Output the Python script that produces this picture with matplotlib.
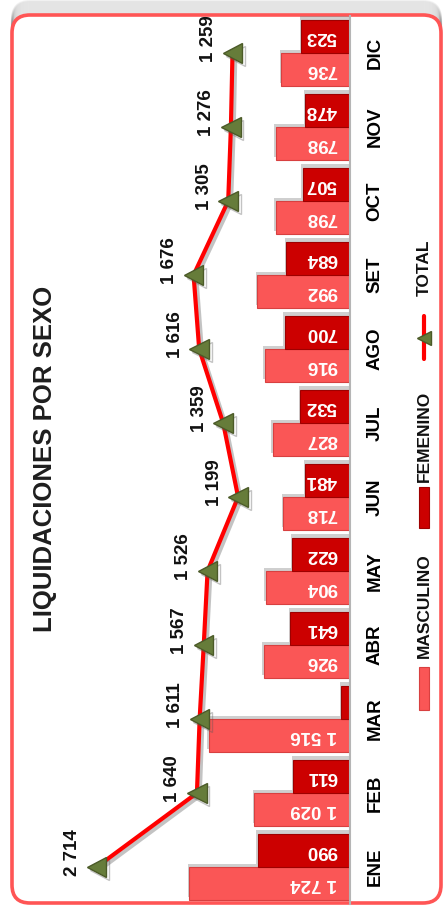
import matplotlib
matplotlib.use("Agg")
import matplotlib.pyplot as plt
import matplotlib.patheffects as pe
from matplotlib.patches import FancyBboxPatch, Rectangle
from matplotlib.lines import Line2D
import numpy as np

months = ["ENE", "FEB", "MAR", "ABR", "MAY", "JUN", "JUL", "AGO", "SET", "OCT", "NOV", "DIC"]
masculino = [1724, 1029, 1516, 926, 904, 718, 827, 916, 992, 798, 798, 736]
femenino = [990, 611, 95, 641, 622, 481, 532, 700, 684, 507, 478, 523]
total = [2714, 1640, 1611, 1567, 1526, 1199, 1359, 1616, 1676, 1305, 1276, 1259]

title = "LIQUIDACIONES POR SEXO"
legend_labels = ["MASCULINO", "FEMENINO", "TOTAL"]

plt.rcParams['font.family'] = ['Liberation Sans', 'DejaVu Sans']
FONT_BOLD = dict(fontweight='bold')

C_MASC = '#FA5656'
C_MASC_EDGE = '#D84040'
C_FEM = '#CC0000'
C_FEM_EDGE = '#9E0000'
C_LINE = '#FF0000'
C_MARK = '#667C3A'
C_MARK_EDGE = '#4B5A28'

W, H = 443, 906
fig = plt.figure(figsize=(W / 100, H / 100), dpi=100)

# background axes in pixel coordinates
bg = fig.add_axes([0, 0, 1, 1])
bg.set_xlim(0, W)
bg.set_ylim(H, 0)
bg.axis('off')

# shadow above the border
for k in range(1, 15):
    bg.add_patch(FancyBboxPatch((12, 15 - k), 429, 888,
                                boxstyle="round,pad=0,rounding_size=18",
                                facecolor='none', edgecolor='#707070',
                                linewidth=1.5, alpha=0.09, zorder=1))
bg.add_patch(FancyBboxPatch((12, 15), 429, 888,
                            boxstyle="round,pad=0,rounding_size=18",
                            facecolor='white', edgecolor='#FF5555',
                            linewidth=2.6, zorder=2))

# title
bg.text(45, 459, title, rotation=90, ha='center', va='center',
        fontsize=18.5, color='#1E1E1E', zorder=5, **FONT_BOLD)

# legend (manual, rotated)
bg.add_patch(Rectangle((419, 667), 10, 43, facecolor=C_MASC, edgecolor=C_MASC_EDGE, lw=0.8, zorder=5))
bg.text(424, 606, legend_labels[0], rotation=90, ha='center', va='center',
        fontsize=12.5, color='#111111', zorder=5, **FONT_BOLD)
bg.add_patch(Rectangle((419, 487), 10, 41, facecolor=C_FEM, edgecolor=C_FEM_EDGE, lw=0.8, zorder=5))
bg.text(424, 436, legend_labels[1], rotation=90, ha='center', va='center',
        fontsize=12.5, color='#111111', zorder=5, **FONT_BOLD)
bg.add_line(Line2D([424, 424], [316, 359], color=C_LINE, lw=3, solid_capstyle='round', zorder=5))
bg.add_line(Line2D([424], [338], marker='<', markersize=10, color=C_MARK,
                   markeredgecolor=C_MARK_EDGE, zorder=6))
bg.text(424, 268, legend_labels[2], rotation=90, ha='center', va='center',
        fontsize=12.5, color='#111111', zorder=5, **FONT_BOLD)

# main axes
ax = fig.add_axes([70 / W, 2 / H, 280 / W, 888 / H])
ax.patch.set_alpha(0)
ax.set_xlim(3000, 0)
ax.set_ylim(-0.5, 11.5)

y = np.arange(len(months))
bw = 0.45
shadow = [pe.SimplePatchShadow(offset=(-1, 2.5), shadow_rgbFace='#777777', alpha=0.35), pe.Normal()]
bm = ax.barh(y - bw / 2, masculino, height=bw, color=C_MASC, edgecolor=C_MASC_EDGE,
             linewidth=0.8, zorder=3)
bf = ax.barh(y + bw / 2, femenino, height=bw, color=C_FEM, edgecolor=C_FEM_EDGE,
             linewidth=0.8, zorder=3)
for b in list(bm) + list(bf):
    b.set_path_effects(shadow)


def fmt(v):
    return f"{v:,}".replace(",", " ")


for yi, v in zip(y - bw / 2, masculino):
    if v >= 200:
        ax.text(140, yi, fmt(v), rotation=180, ha='right', va='center',
                fontsize=13.5, color='white', zorder=6, **FONT_BOLD)
for yi, v in zip(y + bw / 2, femenino):
    if v >= 200:
        ax.text(140, yi, fmt(v), rotation=180, ha='right', va='center',
                fontsize=13.5, color='white', zorder=6, **FONT_BOLD)

ln, = ax.plot(total, y, color=C_LINE, lw=3, marker='<', markersize=14,
              markerfacecolor=C_MARK, markeredgecolor=C_MARK_EDGE, markeredgewidth=1,
              zorder=5, solid_joinstyle='round')
ln.set_path_effects([pe.SimpleLineShadow(offset=(2, -2), shadow_color='#555555', alpha=0.35),
                     pe.Normal()])
for v, yi in zip(total, y):
    ax.annotate(fmt(v), (v, yi), xytext=(-24, 14), textcoords='offset pixels',
                rotation=90, ha='center', va='center', fontsize=13.5,
                color='#111111', zorder=6, **FONT_BOLD)

ax.set_yticks(y)
ax.set_yticklabels(months, rotation=90, va='center', fontsize=13.5, **FONT_BOLD)
ax.tick_params(axis='y', left=False, right=False, labelleft=False, labelright=True,
               length=0, pad=12)
ax.set_xticks([])
for s in ['left', 'top', 'bottom']:
    ax.spines[s].set_visible(False)
ax.spines['right'].set_color('#B5B5B5')
ax.spines['right'].set_linewidth(1.5)
ax.spines['right'].set_zorder(4)

fig.savefig("out.png", dpi=100)
